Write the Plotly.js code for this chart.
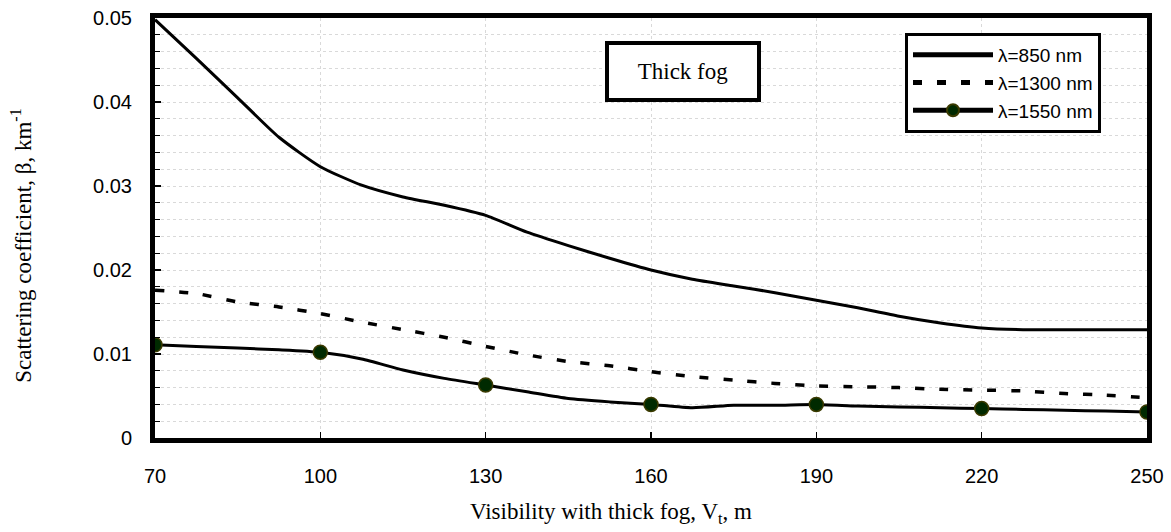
<!DOCTYPE html>
<html>
<head>
<meta charset="utf-8">
<script src="https://cdn.plot.ly/plotly-3.0.1.min.js"></script>
<style>html,body{margin:0;padding:0;background:#fff;}#chart{width:1171px;height:532px;}</style>
</head>
<body>
<div id="chart"></div>
<script>
// Visibility (m)
const visibility = [70, 77.5, 85, 92.5, 100, 107.5, 115, 122.5, 130, 137.5, 145, 152.5, 160, 167.5, 175, 182.5, 190, 197.5, 205, 212.5, 220, 227.5, 235, 242.5, 250];
// Scattering coefficient (km^-1)
const beta850  = [0.0498, 0.0452, 0.0405, 0.0358, 0.0323, 0.0301, 0.0287, 0.0277, 0.0265, 0.0245, 0.0229, 0.0214, 0.0200, 0.0189, 0.0181, 0.0173, 0.0164, 0.0155, 0.0145, 0.0137, 0.0131, 0.0129, 0.0129, 0.0129, 0.0129];
const beta1300 = [0.0176, 0.0172, 0.0162, 0.0156, 0.0148, 0.0138, 0.0129, 0.0120, 0.0109, 0.0099, 0.0091, 0.0086, 0.0079, 0.0073, 0.0069, 0.0065, 0.0062, 0.0061, 0.0060, 0.0058, 0.0057, 0.0056, 0.0053, 0.0051, 0.0048];
const beta1550 = [0.0111, 0.0109, 0.0107, 0.0105, 0.0102, 0.0094, 0.0081, 0.0071, 0.0063, 0.0055, 0.0047, 0.0043, 0.0040, 0.0036, 0.0039, 0.0039, 0.0040, 0.0038, 0.0037, 0.0036, 0.0035, 0.0034, 0.0033, 0.0032, 0.0031];
// points of the 1550 nm series that carry a marker
const marked1550 = [70, 100, 130, 160, 190, 220, 250];
const seriesNames = ['λ=850 nm', 'λ=1300 nm', 'λ=1550 nm'];
const xTicks = [70, 100, 130, 160, 190, 220, 250];
const yTicks = [0, 0.01, 0.02, 0.03, 0.04, 0.05];
const yTickText = ['0', '0.01', '0.02', '0.03', '0.04', '0.05'];
const xTitle = 'Visibility with thick fog, V<sub>t</sub>, m';
const yTitle = 'Scattering coefficient, β, km<sup>-1</sup>';
const boxLabel = 'Thick fog';

const markerSizes = visibility.map(v => marked1550.includes(v) ? 14 : 0);

const traces = [
  {x: visibility, y: beta850, name: seriesNames[0], mode: 'lines',
   line: {color: '#000', width: 3, shape: 'spline', smoothing: 0.6}},
  {x: visibility, y: beta1300, name: seriesNames[1], mode: 'lines',
   line: {color: '#000', width: 3.5, dash: '9px,15px', shape: 'spline', smoothing: 0.6}},
  {x: visibility, y: beta1550, name: seriesNames[2], mode: 'lines+markers',
   line: {color: '#000', width: 3, shape: 'spline', smoothing: 0.6},
   marker: {size: markerSizes, color: '#002a00', opacity: 1, line: {color: '#3a3a00', width: 1.5}}}
];

const serif = 'Liberation Serif, Times New Roman, serif';
const sans = 'Liberation Sans, Arial, sans-serif';

// plot area in pixels, used to place the free-standing texts
const L = 155, R = 1147, T = 18, B = 438.5;
const px = x => (x - L) / (R - L);
const py = y => (B - y) / (B - T);

const layout = {
  width: 1171, height: 532,
  margin: {l: L, r: 1171 - R, t: T, b: 532 - B},
  paper_bgcolor: '#fff', plot_bgcolor: '#fff',
  showlegend: true,
  legend: {x: px(905), y: py(33), xanchor: 'left', yanchor: 'top',
    bgcolor: '#fff', bordercolor: '#000', borderwidth: 3,
    font: {family: sans, size: 19, color: '#000'},
    itemwidth: 80, itemsizing: 'constant', tracegroupgap: 0},
  xaxis: {
    range: [70, 250], tickvals: xTicks, ticktext: xTicks.map(String),
    ticks: 'inside', ticklen: 6, tickwidth: 1.5, tickcolor: '#000',
    showline: true, linewidth: 5, linecolor: '#000', mirror: true,
    showgrid: true, gridcolor: '#d9d9d9', gridwidth: 1, griddash: 'dot',
    zeroline: false, ticklabelstandoff: 16,
    tickfont: {family: sans, size: 20, color: '#000'}
  },
  yaxis: {
    range: [0, 0.05], tickvals: yTicks, ticktext: yTickText,
    ticks: 'inside', ticklen: 6, tickwidth: 1.5, tickcolor: '#000',
    showline: true, linewidth: 5, linecolor: '#000', mirror: true,
    showgrid: true, gridcolor: '#d9d9d9', gridwidth: 1, griddash: 'dot',
    zeroline: false, ticklabelstandoff: 14,
    minor: {dtick: 0.002, ticks: 'inside', ticklen: 5, tickwidth: 1, tickcolor: '#000',
      showgrid: true, gridcolor: '#d9d9d9', gridwidth: 1, griddash: 'dot'},
    tickfont: {family: sans, size: 20, color: '#000'}
  },
  annotations: [
    {text: boxLabel, xref: 'paper', yref: 'paper',
     x: px(683), y: py(72), xanchor: 'center', yanchor: 'middle',
     showarrow: false, bgcolor: '#fff', bordercolor: '#000', borderwidth: 4,
     borderpad: 14, width: 120,
     font: {family: serif, size: 23, color: '#000'}},
    {text: xTitle, xref: 'paper', yref: 'paper',
     x: px(611), y: py(514), xanchor: 'center', yanchor: 'middle',
     showarrow: false, font: {family: serif, size: 23, color: '#000'}},
    {text: yTitle, xref: 'paper', yref: 'paper', textangle: -90,
     x: px(22), y: py(246), xanchor: 'center', yanchor: 'middle',
     showarrow: false, font: {family: serif, size: 23, color: '#000'}}
  ]
};

Plotly.newPlot('chart', traces, layout, {displayModeBar: false, staticPlot: true});
</script>
</body>
</html>
